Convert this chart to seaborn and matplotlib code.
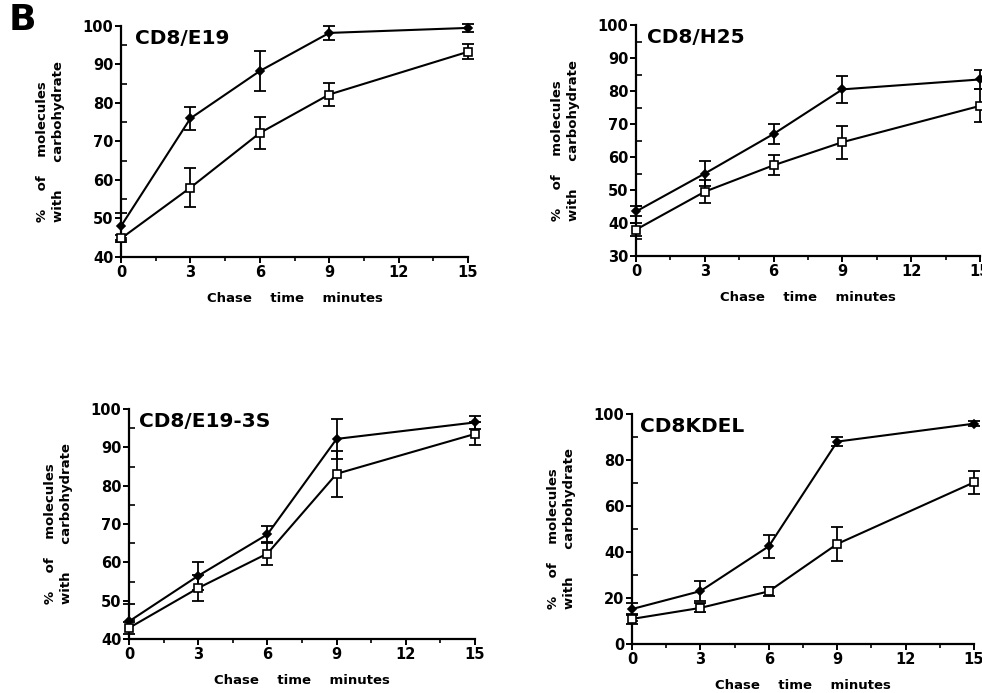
import numpy as np
import pandas as pd
import matplotlib
matplotlib.use("Agg")
import matplotlib.pyplot as plt
from matplotlib.ticker import MultipleLocator
import seaborn as sns

# chase time points (minutes)
chase_time = [0, 3, 6, 9, 15]

# panel titles
panel_titles = ["CD8/E19", "CD8/H25", "CD8/E19-3S", "CD8KDEL"]

# filled diamond series
filled_vals = [
    [48, 76, 88.3, 98.2, 99.5],
    [43.5, 55, 67, 80.5, 83.5],
    [44.6, 56.5, 67.3, 92.2, 96.5],
    [15.2, 23.0, 42.5, 88, 95.8],
]
filled_err = [
    [3.5, 3, 5.2, 1.9, 1.0],
    [1.5, 3.7, 3, 4, 3],
    [4.5, 3.7, 2.2, 5.2, 1.7],
    [2.5, 4.3, 5, 2, 1],
]

# open square series
open_vals = [
    [44.8, 58, 72.2, 82.2, 93.3],
    [38, 49.5, 57.5, 64.5, 75.5],
    [42.9, 53.3, 62.3, 83.1, 93.5],
    [10.9, 15.7, 22.9, 43.5, 70.3],
]
open_err = [
    [1.0, 5.1, 4.2, 3, 2],
    [2, 3.5, 3, 5, 5],
    [1.5, 3.5, 3, 6, 3],
    [2, 2, 2, 7.2, 5],
]

y_limits = [(40, 100), (30, 100), (40, 100), (0, 100)]
y_major = [10, 10, 10, 20]

# axes boxes in figure fractions [left, bottom, width, height]
boxes = [
    [0.1232, 0.6292, 0.3534, 0.3333],
    [0.6477, 0.6306, 0.3503, 0.3333],
    [0.1314, 0.0779, 0.3523, 0.3319],
    [0.6436, 0.0707, 0.3483, 0.3319],
]
title_x = [0.04, 0.032, 0.03, 0.024]

sns.set_style("ticks")
plt.rcParams["font.family"] = ["DejaVu Sans"]
plt.rcParams["font.weight"] = "bold"
for key in ["text.color", "axes.labelcolor", "xtick.color", "ytick.color"]:
    plt.rcParams[key] = "black"

fig = plt.figure(figsize=(9.82, 6.93), dpi=100)

for i in range(4):
    ax = fig.add_axes(boxes[i])
    df = pd.DataFrame({
        "time": chase_time * 2,
        "value": filled_vals[i] + open_vals[i],
        "err": filled_err[i] + open_err[i],
        "kind": ["filled"] * 5 + ["open"] * 5,
    })
    sns.lineplot(data=df, x="time", y="value", units="kind", estimator=None,
                 color="black", lw=1.5, ax=ax, legend=False, clip_on=False)
    for kind, mk, fc, ms in [("filled", "D", "black", 4.5), ("open", "s", "white", 6)]:
        sub = df[df["kind"] == kind]
        ax.errorbar(sub["time"], sub["value"], yerr=sub["err"], fmt="none",
                    ecolor="black", elinewidth=1.3, capsize=4, capthick=1.3,
                    clip_on=False, zorder=3)
        ax.plot(sub["time"], sub["value"], ls="none", marker=mk, ms=ms,
                mfc=fc, mec="black", mew=1.2, clip_on=False, zorder=4)

    ax.set_xlim(0, 15)
    ax.set_ylim(*y_limits[i])
    ax.xaxis.set_major_locator(MultipleLocator(3))
    ax.xaxis.set_minor_locator(MultipleLocator(1.5))
    ax.yaxis.set_major_locator(MultipleLocator(y_major[i]))
    ax.yaxis.set_minor_locator(MultipleLocator(y_major[i] / 2))
    ax.tick_params(axis="both", which="major", direction="out", length=4,
                   width=1.4, labelsize=10.5, pad=1.5)
    ax.tick_params(axis="y", which="minor", direction="in", length=4, width=1.2)
    ax.tick_params(axis="x", which="minor", direction="out", length=3, width=1.2)
    for lab in ax.get_xticklabels() + ax.get_yticklabels():
        lab.set_fontweight("bold")
    sns.despine(ax=ax)
    for sp in ["left", "bottom"]:
        ax.spines[sp].set_linewidth(1.6)
        ax.spines[sp].set_color("black")

    ax.set_xlabel("Chase    time    minutes", fontsize=9.5, fontweight="bold", labelpad=9)
    ax.set_ylabel("%    of    molecules\nwith      carbohydrate", fontsize=9.5,
                  fontweight="bold", labelpad=13, linespacing=1.3,
                  multialignment="left")
    ax.text(title_x[i], 0.985, panel_titles[i], transform=ax.transAxes, fontsize=14.5,
            fontweight="bold", va="top", ha="left")

fig.text(0.009, 0.995, "B", fontsize=26, fontweight="bold", va="top", ha="left")

fig.savefig("out.png", dpi=100)
